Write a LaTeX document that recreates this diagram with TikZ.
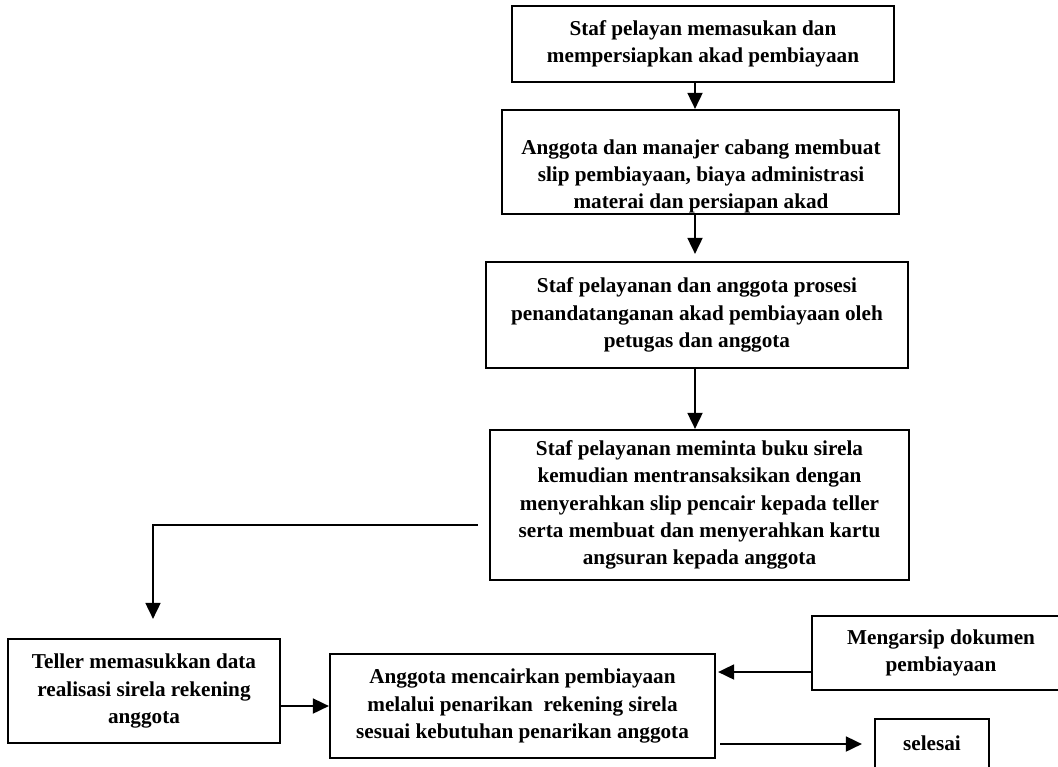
\documentclass[tikz,border=0pt]{standalone}
\usepackage{fontspec}
\setmainfont{Liberation Serif}
\usetikzlibrary{arrows.meta}
\begin{document}
\begin{tikzpicture}[x=0.5pt,y=-0.5pt,
  label font/.style={font=\fontsize{10.6pt}{13.6pt}\selectfont\bfseries},
  box/.style 2 args={draw=black, line width=1.1pt, inner sep=0pt, align=center,
    minimum width=#1, minimum height=#2, label font},
  txt/.style={inner sep=0pt, align=center, label font},
  arr/.style={draw=black, line width=0.9pt, -{Triangle[length=8pt,width=7.5pt]}}
]
\clip (0,0) rectangle (1058,766);
\fill[white] (0,0) rectangle (1058,766);

% main column
\node[box={191pt}{38pt}] (b1) at (703,44)
  {Staf pelayan memasukan dan\\mempersiapkan akad pembiayaan};

% the third line of this box runs into its lower edge
\begin{scope}
  \clip (502,110) rectangle (899,213);
  \node[txt, anchor=north] (t2) at (701,139)
    {Anggota dan manajer cabang membuat\\slip pembiayaan, biaya administrasi\\materai dan persiapan akad};
\end{scope}
\node[box={198.5pt}{52pt}] (b2) at (700.5,162) {};

\node[box={211pt}{53pt}] (b3) at (697,315)
  {Staf pelayanan dan anggota prosesi\\penandatanganan akad pembiayaan oleh\\petugas dan anggota};

\node[box={209.5pt}{75pt}] (b4) at (699.5,505)
  {Staf pelayanan meminta buku sirela\\kemudian mentransaksikan dengan\\menyerahkan slip pencair kepada teller\\serta membuat dan menyerahkan kartu\\angsuran kepada anggota};

% bottom row
\node[box={136pt}{52pt}] (teller) at (144,691)
  {Teller memasukkan data\\realisasi sirela rekening\\anggota};

\node[box={192.5pt}{52pt}] (ang) at (522.5,706)
  {Anggota mencairkan pembiayaan\\melalui penarikan\ \ rekening sirela\\sesuai kebutuhan penarikan anggota};

\node[box={129pt}{37pt}] (arsip) at (941,653)
  {Mengarsip dokumen\\pembiayaan};

\node[box={57pt}{24.5pt}] (sel) at (932,743.5) {selesai};

% connectors
\coordinate (cx) at (695,0);
\draw[arr] (b1.south -| cx) -- (b2.north -| cx);
\draw[arr, shorten >=3.5pt] (b2.south -| cx) -- (b3.north -| cx);
\draw[arr] (b3.south -| cx) -- (b4.north -| cx);

\coordinate (tx) at (153,525);
\draw[arr, shorten <=5.5pt, shorten >=9.5pt] (b4.west |- tx) -| (teller.north -| tx);

\draw[arr] (teller.east |- ang.west) -- (ang.west);

\coordinate (ay) at (0,672);
\draw[arr, shorten >=1pt] (arsip.west |- ay) -- (ang.east |- ay);

\coordinate (sy) at (0,744);
\draw[arr, shorten <=2pt, shorten >=6pt] (ang.east |- sy) -- (sel.west |- sy);
\end{tikzpicture}
\end{document}
